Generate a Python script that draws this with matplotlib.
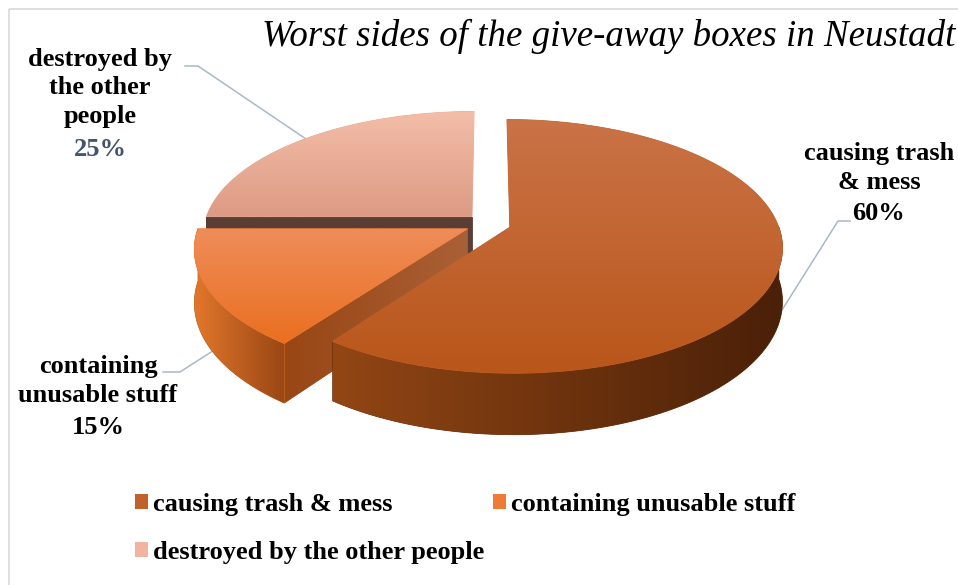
import numpy as np
import matplotlib
matplotlib.use('Agg')
import matplotlib.pyplot as plt
from matplotlib.patches import Polygon, Patch, Rectangle
from matplotlib.colors import to_rgb

plt.rcParams['font.family'] = ['Liberation Serif', 'DejaVu Serif']

# --- data ---
title = 'Worst sides of the give-away boxes in Neustadt'
categories = ['causing trash & mess', 'containing unusable stuff', 'destroyed by the other people']
label_lines = ['causing trash\n& mess', 'containing\nunusable stuff', 'destroyed by\nthe other\npeople']
shares = [60, 15, 25]

# colours: top face (top, bottom), outer wall (left, right), cut wall (left, right)
top_colors = [('#CA7347', '#B9561A'), ('#EF8D5A', '#EA6F20'), ('#F3BEA8', '#DD9A84')]
wall_colors = [('#924614', '#4A2008'), ('#E2772B', '#9A4715'), ('#D08A70', '#D08A70')]
cut_colors = [('#6A300C', '#6A300C'), ('#984614', '#AA6036'), ('#5A3E36', '#5A3E36')]
legend_colors = ['#C2622A', '#EE7C35', '#F1B4A0']
pct_colors = ['black', 'black', '#44546A']

# --- pseudo 3D geometry (pixel space) ---
CX, CY = 488, 224      # pie centre
A, B = 268, 123        # horizontal / vertical radius
H = 52                 # thickness
P = 0.15               # perspective
EXPLODE = 0.085
draw_order = [2, 1, 0]


def proj(u, v, z=0.0):
    s = 1.0 / (1.0 - P * v)
    return CX + u * A * s, CY + v * B * s + z * H * s


def arc(du, dv, a0, a1, z=0.0, n=120):
    th = np.radians(np.linspace(a0, a1, n))
    x, y = proj(du + np.sin(th), dv - np.cos(th), z)
    return np.column_stack([x, y])


zc = [10]


def shade(ax, pts, c0, c1, vertical=True):
    pts = np.asarray(pts)
    zc[0] += 1
    mid = 0.5 * (np.array(to_rgb(c0)) + np.array(to_rgb(c1)))
    poly = Polygon(pts, closed=True, facecolor=mid, edgecolor=mid, lw=0.6, zorder=zc[0])
    ax.add_patch(poly)
    x0, y0 = pts.min(axis=0)
    x1, y1 = pts.max(axis=0)
    t = np.linspace(0, 1, 256)[:, None]
    grad = (1 - t) * np.array(to_rgb(c0)) + t * np.array(to_rgb(c1))
    img = grad[:, None, :] if vertical else grad[None, :, :]
    zc[0] += 1
    im = ax.imshow(img, extent=(x0, x1, y1, y0), origin='upper', aspect='auto',
                   interpolation='bilinear', zorder=zc[0])
    im.set_clip_path(poly)


fig = plt.figure(figsize=(9.58, 5.85), dpi=100)
ax = fig.add_axes([0, 0, 1, 1])
ax.set_axis_off()

total = sum(shares)
starts = np.cumsum([0] + shares[:-1]) / total * 360
ends = np.cumsum(shares) / total * 360

for i in draw_order:
    a0, a1 = starts[i], ends[i]
    mid = np.radians((a0 + a1) / 2)
    du, dv = EXPLODE * np.sin(mid), -EXPLODE * np.cos(mid)
    vx, vy = proj(du, dv)
    # cut walls facing the viewer
    for a, visible in ((a0, 180 < a0 % 360 < 360), (a1, 0 < a1 % 360 < 180)):
        if visible:
            ex, ey = proj(du + np.sin(np.radians(a)), dv - np.cos(np.radians(a)))
            bx, by = proj(du, dv, 1)
            fx, fy = proj(du + np.sin(np.radians(a)), dv - np.cos(np.radians(a)), 1)
            shade(ax, [(vx, vy), (ex, ey), (fx, fy), (bx, by)], *cut_colors[i], vertical=False)
    # outer wall on the front half
    w0, w1 = max(a0, 90), min(a1, 270)
    if w1 > w0:
        top = arc(du, dv, w0, w1)
        bot = arc(du, dv, w0, w1, 1)[::-1]
        shade(ax, np.vstack([top, bot]), *wall_colors[i], vertical=False)
    # top face
    face = np.vstack([[(vx, vy)], arc(du, dv, a0, a1)])
    shade(ax, face, *top_colors[i], vertical=True)

ax.set_xlim(0, 958)
ax.set_ylim(585, 0)

# chart border
ax.add_patch(Rectangle((9, 9), 1000, 1000, fill=False, edgecolor='#D9D9D9', lw=1.2, zorder=1))

# title
ax.text(262, 46, title, fontsize=26.6, style='italic', ha='left', va='baseline', zorder=50)

# data labels with leader lines
lbl_fs = 19
label_pos = [(879, 168, 213), (98, 381, 427), (100, 88, 149)]
leaders = [[(850, 221), (838, 221), (777, 318)],
           [(163, 372), (180, 372), (222, 345)],
           [(185, 66), (198, 66), (306, 139)]]
for i in range(len(shares)):
    x, yn, yp = label_pos[i]
    ax.text(x, yn, label_lines[i], fontsize=lbl_fs, fontweight='bold', ha='center', va='center',
            linespacing=1.3, zorder=50)
    ax.text(x, yp, f'{shares[i]}%', fontsize=lbl_fs, fontweight='bold', ha='center', va='center',
            color=pct_colors[i], zorder=50)
    lx, ly = zip(*leaders[i])
    ax.plot(lx, ly, color='#A9B8CB', lw=1.1, zorder=5)

# legend
handles = [Patch(facecolor=legend_colors[k], label=categories[k]) for k in (0, 2, 1)]
ax.legend(handles=handles, ncol=2, loc='upper left', bbox_to_anchor=(135 / 958, 1 - 493 / 585),
          frameon=False, prop={'size': lbl_fs, 'weight': 'bold'}, handlelength=0.5,
          handleheight=0.5, handletextpad=0.2, labelspacing=0.95, columnspacing=0.3,
          borderpad=0, borderaxespad=0)

fig.savefig('out.png', dpi=100)
